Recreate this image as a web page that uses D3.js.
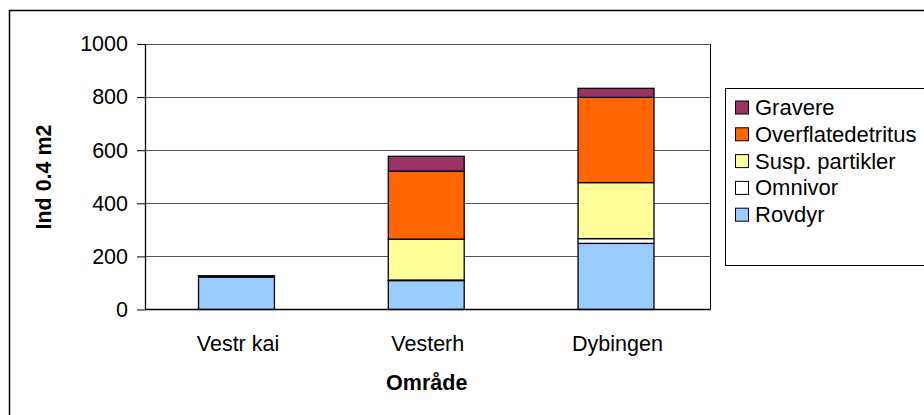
<!DOCTYPE html>
<html>
<head>
<meta charset="utf-8">
<script src="https://cdn.jsdelivr.net/npm/d3@7"></script>
<style>
  body { margin: 0; background: #fff; }
  svg { display: block; font-family: "Liberation Sans", Arial, sans-serif; }
</style>
</head>
<body>
<svg width="924" height="415"></svg>
<script>
// data
var areas = ["Vestr kai", "Vesterh", "Dybingen"];
var groups = ["Rovdyr", "Omnivor", "Susp. partikler", "Overflatedetritus", "Gravere"];
var rovdyr = [122, 109, 249];
var omnivor = [3, 2, 18];
var susp = [0, 154, 211];
var overflate = [0, 256, 321];
var gravere = [2, 56, 34];
var colors = ["#99CCFF", "#FFFFFF", "#FFFF99", "#FF6600", "#993366"];
var yTicks = [0, 200, 400, 600, 800, 1000];

var rows = areas.map(function(a, i) {
  return { area: a, "Rovdyr": rovdyr[i], "Omnivor": omnivor[i], "Susp. partikler": susp[i],
           "Overflatedetritus": overflate[i], "Gravere": gravere[i] };
});

var svg = d3.select("svg");
var fontSize = 21.5;

// outer chart frame
svg.append("rect")
  .attr("x", 9.5).attr("y", 10.5)
  .attr("width", 930).attr("height", 420)
  .attr("fill", "none").attr("stroke", "#000").attr("stroke-width", 1.5);

var plotL = 145, plotR = 710.5, plotT = 44, plotB = 309.5;

var x = d3.scaleBand().domain(areas).range([plotL, plotR]).paddingInner(0.6).paddingOuter(0.29);
var y = d3.scaleLinear().domain([0, 1000]).range([plotB, plotT]);

// gridlines
svg.append("g").selectAll("line")
  .data(yTicks.filter(function(t) { return t > 0; }))
  .enter().append("line")
    .attr("x1", plotL).attr("x2", plotR)
    .attr("y1", function(d) { return Math.round(y(d)) + 0.5; })
    .attr("y2", function(d) { return Math.round(y(d)) + 0.5; })
    .attr("stroke", "#555").attr("stroke-width", 1);

// plot area right border
svg.append("line")
  .attr("x1", plotR).attr("x2", plotR).attr("y1", plotT).attr("y2", plotB)
  .attr("stroke", "#000").attr("stroke-width", 1);

// stacked bars
var series = d3.stack().keys(groups)(rows);
var color = d3.scaleOrdinal().domain(groups).range(colors);

svg.append("g").selectAll("g")
  .data(series)
  .enter().append("g")
    .attr("fill", function(d) { return color(d.key); })
  .selectAll("rect")
  .data(function(d) { return d.filter(function(p) { return p[1] - p[0] > 0; }); })
  .enter().append("rect")
    .attr("x", function(d) { return x(d.data.area) - 1.5; })
    .attr("width", x.bandwidth())
    .attr("y", function(d) { return y(d[1]); })
    .attr("height", function(d) { return y(d[0]) - y(d[1]); })
    .attr("stroke", "#000").attr("stroke-width", 1.3);

// y axis
var yAxis = svg.append("g")
  .attr("transform", "translate(" + plotL + ",0)")
  .call(d3.axisLeft(y).tickValues(yTicks).tickFormat(d3.format("d"))
    .tickSize(8).tickPadding(9).tickSizeOuter(0));
yAxis.select(".domain").attr("stroke", "#000").attr("stroke-width", 1.3);
yAxis.selectAll(".tick line").attr("stroke", "#000");
yAxis.selectAll("text").attr("font-size", fontSize).attr("fill", "#000")
  .attr("font-family", "Liberation Sans, Arial, sans-serif");

// x axis
var xAxis = svg.append("g")
  .attr("transform", "translate(0," + plotB + ")")
  .call(d3.axisBottom(x).tickSize(0).tickPadding(26));
xAxis.select(".domain").attr("stroke", "#000").attr("stroke-width", 1.5)
  .attr("d", "M" + plotL + ",0H" + plotR);
xAxis.selectAll("text").attr("font-size", fontSize).attr("fill", "#000")
  .attr("font-family", "Liberation Sans, Arial, sans-serif");

// axis titles
svg.append("text")
  .attr("x", (plotL + plotR) / 2 - 1).attr("y", 390)
  .attr("text-anchor", "middle").attr("font-size", fontSize).attr("font-weight", "bold")
  .text("Område");

svg.append("text")
  .attr("transform", "translate(51,177) rotate(-90)")
  .attr("text-anchor", "middle").attr("font-size", fontSize).attr("font-weight", "bold")
  .text("Ind 0.4 m2");

// legend
var legend = svg.append("g");
legend.append("rect")
  .attr("x", 725.5).attr("y", 88.5).attr("width", 220).attr("height", 177)
  .attr("fill", "#fff").attr("stroke", "#000").attr("stroke-width", 1);

var legendOrder = groups.slice().reverse();
var items = legend.selectAll("g.item")
  .data(legendOrder)
  .enter().append("g")
    .attr("class", "item")
    .attr("transform", function(d, i) { return "translate(735," + (107.5 + i * 26.8) + ")"; });
items.append("rect")
  .attr("x", 0.5).attr("y", -6.5).attr("width", 13).attr("height", 13)
  .attr("fill", function(d) { return color(d); })
  .attr("stroke", "#000").attr("stroke-width", 1);
items.append("text")
  .attr("x", 20).attr("y", 7.5)
  .attr("font-size", 22).attr("fill", "#000")
  .text(function(d) { return d; });
</script>
</body>
</html>
